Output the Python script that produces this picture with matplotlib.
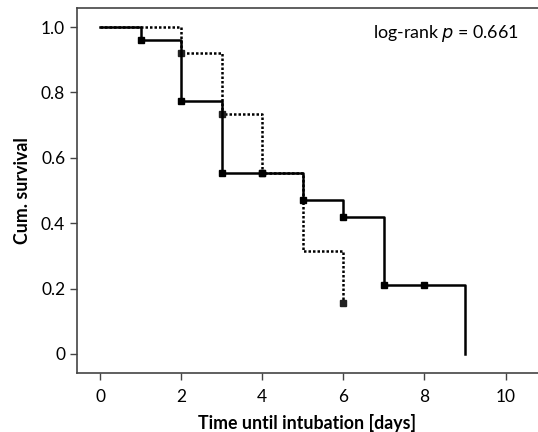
import matplotlib
matplotlib.use('Agg')
import matplotlib.pyplot as plt

# === Данные ===
# solid group
days_a = [0, 1, 2, 3, 4, 5, 6, 7, 8, 9]
surv_a = [1.0, 0.96, 0.775, 0.555, 0.555, 0.47, 0.42, 0.21, 0.21, 0.0]
mark_a_days = [1, 2, 3, 4, 5, 6, 7, 8]
mark_a_surv = [0.96, 0.775, 0.555, 0.555, 0.47, 0.42, 0.21, 0.21]

# dotted group
days_b = [0, 2, 3, 4, 5, 6]
surv_b = [1.0, 0.92, 0.735, 0.555, 0.315, 0.155]
mark_b_days = [2, 3, 4, 6]
mark_b_surv = [0.92, 0.735, 0.555, 0.155]

x_ticks = [0, 2, 4, 6, 8, 10]
y_ticks = [0, 0.2, 0.4, 0.6, 0.8, 1.0]
y_labels = ['0', '0.2', '0.4', '0.6', '0.8', '1.0']

plt.rcParams['font.family'] = ['Lato', 'DejaVu Sans']

fig = plt.figure(figsize=(5.38, 4.32), dpi=100)
ax = fig.add_axes([0.143, 0.137, 0.857, 0.844])

ax.step(days_b, surv_b, where='post', color='black', lw=1.8, ls=(0, (1, 0.8)))
ax.plot(mark_b_days, mark_b_surv, 's', color='#222222', ms=4.5, ls='none')
ax.step(days_a, surv_a, where='post', color='black', lw=1.8)
ax.plot(mark_a_days, mark_a_surv, 's', color='black', ms=4.5, ls='none')

ax.set_xlim(-0.57, 10.8)
ax.set_ylim(-0.058, 1.058)
ax.set_xticks(x_ticks)
ax.set_yticks(y_ticks)
ax.set_yticklabels(y_labels)
ax.tick_params(labelsize=12.5, length=5, color='#444444', width=1)
ax.tick_params(axis='x', pad=7)

for s in ['right']:
    ax.spines[s].set_visible(False)
for s in ['left', 'bottom', 'top']:
    ax.spines[s].set_color('#444444')
    ax.spines[s].set_linewidth(1.2)

ax.set_xlabel('Time until intubation [days]', fontsize=12.8, fontweight='bold', labelpad=6)
ax.set_ylabel('Cum. survival', fontsize=12.8, fontweight='bold', labelpad=7)

ax.text(10.32, 0.982, 'log-rank $\\it{p}$ = 0.661', ha='right', va='center', fontsize=12.8)

fig.savefig('out.png', dpi=100)
